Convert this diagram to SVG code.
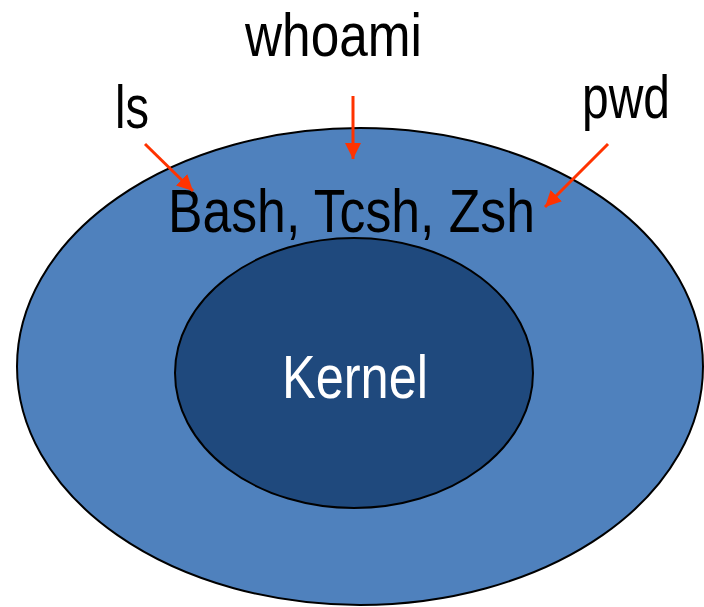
<svg xmlns="http://www.w3.org/2000/svg" width="704" height="607" viewBox="0 0 704 607">
  <style>
    .lbl { font-family: "Liberation Sans", Arial, sans-serif; font-size: 62px; fill: #000; }
    .conn { stroke: #FF3300; stroke-width: 3; fill: none; marker-end: url(#ah); }
  </style>
  <defs>
    <marker id="ah" markerUnits="userSpaceOnUse" markerWidth="18" markerHeight="18" refX="16" refY="8" orient="auto">
      <path d="M0,0 L16,8 L0,16 Z" fill="#FF3300"/>
    </marker>
  </defs>
  <rect width="704" height="607" fill="#fff"/>
  <g id="shell">
    <ellipse cx="360" cy="366.5" rx="343" ry="238.5" fill="#4F81BD" stroke="#000" stroke-width="2"/>
    <text class="lbl" x="168" y="232" textLength="367" lengthAdjust="spacingAndGlyphs">Bash, Tcsh, Zsh</text>
  </g>
  <g id="kernel">
    <ellipse cx="354" cy="373" rx="179" ry="135" fill="#1F497D" stroke="#000" stroke-width="2"/>
    <text class="lbl" x="282" y="398" textLength="146" lengthAdjust="spacingAndGlyphs" style="fill:#fff">Kernel</text>
  </g>
  <g id="whoami">
    <text class="lbl" x="245" y="56" textLength="177" lengthAdjust="spacingAndGlyphs">whoami</text>
  </g>
  <g id="ls">
    <text class="lbl" x="115" y="128" textLength="34" lengthAdjust="spacingAndGlyphs">ls</text>
  </g>
  <g id="pwd">
    <text class="lbl" x="582" y="118" textLength="88" lengthAdjust="spacingAndGlyphs">pwd</text>
  </g>
  <g id="connectors">
    <line class="conn" x1="145" y1="144" x2="193" y2="191"/>
    <line class="conn" x1="353" y1="96" x2="353" y2="159"/>
    <line class="conn" x1="608" y1="144" x2="545" y2="207"/>
  </g>
</svg>
